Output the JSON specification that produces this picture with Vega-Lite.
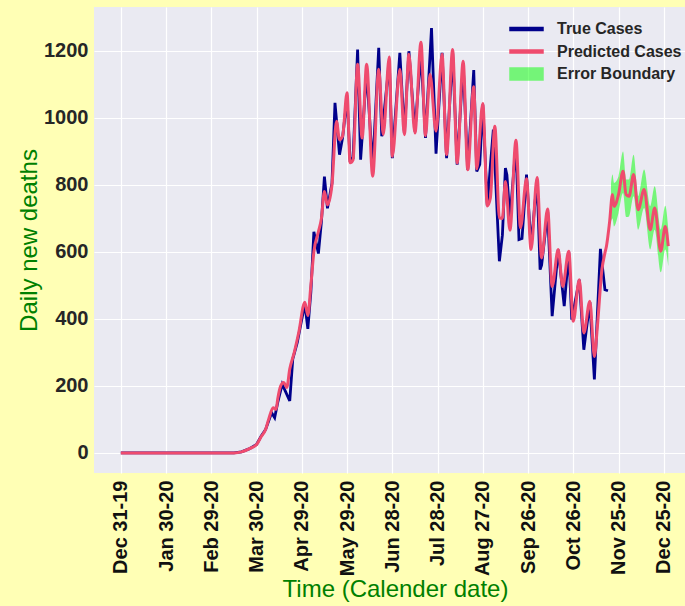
{
  "$schema": "https://vega.github.io/schema/vega-lite/v6.json",
  "width": 591,
  "height": 466,
  "autosize": {"type": "none"},
  "padding": {"left": 94, "top": 7, "right": 0, "bottom": 133},
  "background": "#ffffb5",
  "config": {
    "view": {"fill": "#eaeaf2", "stroke": null},
    "font": "Liberation Sans",
    "axis": {
      "grid": true, "gridColor": "#ffffff", "gridWidth": 1.2, "domain": false, "ticks": false,
      "labelFont": "Liberation Sans", "labelFontWeight": "bold", "labelFontSize": 20, "labelColor": "#262626",
      "titleFont": "Liberation Sans", "titleFontWeight": "normal", "titleFontSize": 24, "titleColor": "#008000"
    }
  },
  "datasets": {
    "predicted": [
      {"date": "2019-12-31", "value": 0}, {"date": "2020-01-30", "value": 0}, {"date": "2020-02-29", "value": 0},
      {"date": "2020-03-15", "value": 0}, {"date": "2020-03-20", "value": 3}, {"date": "2020-03-25", "value": 12},
      {"date": "2020-03-30", "value": 25}, {"date": "2020-04-02", "value": 48}, {"date": "2020-04-05", "value": 70},
      {"date": "2020-04-07", "value": 100}, {"date": "2020-04-10", "value": 135}, {"date": "2020-04-12", "value": 130},
      {"date": "2020-04-13", "value": 160}, {"date": "2020-04-15", "value": 200}, {"date": "2020-04-17", "value": 210},
      {"date": "2020-04-19", "value": 195}, {"date": "2020-04-21", "value": 250}, {"date": "2020-04-24", "value": 300},
      {"date": "2020-04-27", "value": 360}, {"date": "2020-05-01", "value": 450}, {"date": "2020-05-03", "value": 410},
      {"date": "2020-05-05", "value": 500}, {"date": "2020-05-07", "value": 600}, {"date": "2020-05-10", "value": 660},
      {"date": "2020-05-12", "value": 700}, {"date": "2020-05-14", "value": 780}, {"date": "2020-05-16", "value": 740},
      {"date": "2020-05-19", "value": 800}, {"date": "2020-05-22", "value": 990}, {"date": "2020-05-24", "value": 935},
      {"date": "2020-05-26", "value": 945}, {"date": "2020-05-29", "value": 1075}, {"date": "2020-05-31", "value": 866},
      {"date": "2020-06-02", "value": 875}, {"date": "2020-06-05", "value": 1160}, {"date": "2020-06-08", "value": 940},
      {"date": "2020-06-11", "value": 1160}, {"date": "2020-06-15", "value": 826}, {"date": "2020-06-19", "value": 1145},
      {"date": "2020-06-22", "value": 950}, {"date": "2020-06-26", "value": 1182}, {"date": "2020-06-28", "value": 885},
      {"date": "2020-07-03", "value": 1145}, {"date": "2020-07-06", "value": 950}, {"date": "2020-07-09", "value": 1190},
      {"date": "2020-07-13", "value": 955}, {"date": "2020-07-17", "value": 1226}, {"date": "2020-07-20", "value": 947},
      {"date": "2020-07-23", "value": 1130}, {"date": "2020-07-27", "value": 960}, {"date": "2020-07-31", "value": 1190},
      {"date": "2020-08-03", "value": 890}, {"date": "2020-08-07", "value": 1204}, {"date": "2020-08-10", "value": 865},
      {"date": "2020-08-14", "value": 1169}, {"date": "2020-08-17", "value": 845}, {"date": "2020-08-21", "value": 1093},
      {"date": "2020-08-23", "value": 848}, {"date": "2020-08-27", "value": 1043}, {"date": "2020-08-30", "value": 737},
      {"date": "2020-09-01", "value": 760}, {"date": "2020-09-04", "value": 975}, {"date": "2020-09-07", "value": 701},
      {"date": "2020-09-09", "value": 700}, {"date": "2020-09-11", "value": 810}, {"date": "2020-09-14", "value": 665},
      {"date": "2020-09-18", "value": 933}, {"date": "2020-09-21", "value": 672}, {"date": "2020-09-25", "value": 818},
      {"date": "2020-09-28", "value": 607}, {"date": "2020-10-02", "value": 822}, {"date": "2020-10-05", "value": 582},
      {"date": "2020-10-09", "value": 728}, {"date": "2020-10-12", "value": 497}, {"date": "2020-10-16", "value": 607},
      {"date": "2020-10-19", "value": 497}, {"date": "2020-10-23", "value": 602}, {"date": "2020-10-26", "value": 393},
      {"date": "2020-10-30", "value": 517}, {"date": "2020-11-02", "value": 358}, {"date": "2020-11-06", "value": 453},
      {"date": "2020-11-09", "value": 288}, {"date": "2020-11-11", "value": 378}, {"date": "2020-11-14", "value": 547},
      {"date": "2020-11-16", "value": 597}, {"date": "2020-11-17", "value": 617}, {"date": "2020-11-19", "value": 686},
      {"date": "2020-11-21", "value": 771}, {"date": "2020-11-22", "value": 736}, {"date": "2020-11-25", "value": 771},
      {"date": "2020-11-28", "value": 841}, {"date": "2020-11-30", "value": 771}, {"date": "2020-12-02", "value": 766},
      {"date": "2020-12-05", "value": 831}, {"date": "2020-12-08", "value": 726}, {"date": "2020-12-12", "value": 786},
      {"date": "2020-12-16", "value": 666}, {"date": "2020-12-19", "value": 731}, {"date": "2020-12-23", "value": 602},
      {"date": "2020-12-26", "value": 676}, {"date": "2020-12-28", "value": 617}
    ],
    "true": [
      {"date": "2019-12-31", "value": 0}, {"date": "2020-01-30", "value": 0}, {"date": "2020-02-29", "value": 0},
      {"date": "2020-03-15", "value": 0}, {"date": "2020-03-20", "value": 3}, {"date": "2020-03-25", "value": 12},
      {"date": "2020-03-30", "value": 25}, {"date": "2020-04-02", "value": 50}, {"date": "2020-04-05", "value": 70},
      {"date": "2020-04-09", "value": 120}, {"date": "2020-04-11", "value": 105}, {"date": "2020-04-13", "value": 150},
      {"date": "2020-04-16", "value": 205}, {"date": "2020-04-18", "value": 185}, {"date": "2020-04-21", "value": 155},
      {"date": "2020-04-23", "value": 280}, {"date": "2020-04-26", "value": 330}, {"date": "2020-05-01", "value": 445},
      {"date": "2020-05-03", "value": 370}, {"date": "2020-05-05", "value": 480}, {"date": "2020-05-07", "value": 660},
      {"date": "2020-05-10", "value": 595}, {"date": "2020-05-12", "value": 690}, {"date": "2020-05-14", "value": 825},
      {"date": "2020-05-16", "value": 730}, {"date": "2020-05-19", "value": 805}, {"date": "2020-05-21", "value": 1045},
      {"date": "2020-05-24", "value": 890}, {"date": "2020-05-26", "value": 940}, {"date": "2020-05-29", "value": 1060},
      {"date": "2020-05-31", "value": 875}, {"date": "2020-06-02", "value": 880}, {"date": "2020-06-05", "value": 1204},
      {"date": "2020-06-07", "value": 875}, {"date": "2020-06-11", "value": 1140}, {"date": "2020-06-15", "value": 850},
      {"date": "2020-06-19", "value": 1209}, {"date": "2020-06-21", "value": 945}, {"date": "2020-06-26", "value": 1170},
      {"date": "2020-06-28", "value": 880}, {"date": "2020-07-03", "value": 1194}, {"date": "2020-07-06", "value": 955},
      {"date": "2020-07-09", "value": 1199}, {"date": "2020-07-13", "value": 960}, {"date": "2020-07-17", "value": 1195},
      {"date": "2020-07-20", "value": 940}, {"date": "2020-07-24", "value": 1268}, {"date": "2020-07-27", "value": 893},
      {"date": "2020-07-31", "value": 1194}, {"date": "2020-08-03", "value": 880}, {"date": "2020-08-07", "value": 1195},
      {"date": "2020-08-10", "value": 860}, {"date": "2020-08-14", "value": 1160}, {"date": "2020-08-17", "value": 845},
      {"date": "2020-08-21", "value": 1143}, {"date": "2020-08-23", "value": 840}, {"date": "2020-08-25", "value": 861},
      {"date": "2020-08-27", "value": 1040}, {"date": "2020-08-30", "value": 738}, {"date": "2020-09-01", "value": 855},
      {"date": "2020-09-03", "value": 965}, {"date": "2020-09-07", "value": 572}, {"date": "2020-09-09", "value": 650},
      {"date": "2020-09-11", "value": 850}, {"date": "2020-09-12", "value": 830}, {"date": "2020-09-14", "value": 700},
      {"date": "2020-09-18", "value": 920}, {"date": "2020-09-20", "value": 637}, {"date": "2020-09-22", "value": 640},
      {"date": "2020-09-25", "value": 831}, {"date": "2020-09-28", "value": 617}, {"date": "2020-10-02", "value": 815},
      {"date": "2020-10-04", "value": 547}, {"date": "2020-10-05", "value": 560}, {"date": "2020-10-09", "value": 720},
      {"date": "2020-10-12", "value": 408}, {"date": "2020-10-16", "value": 607}, {"date": "2020-10-20", "value": 438},
      {"date": "2020-10-23", "value": 600}, {"date": "2020-10-25", "value": 398}, {"date": "2020-10-30", "value": 517},
      {"date": "2020-11-02", "value": 308}, {"date": "2020-11-06", "value": 450}, {"date": "2020-11-09", "value": 219},
      {"date": "2020-11-13", "value": 609}, {"date": "2020-11-16", "value": 487}, {"date": "2020-11-18", "value": 484}
    ],
    "band": [
      {"date": "2020-11-20", "lo": 690, "hi": 800}, {"date": "2020-11-21", "lo": 700, "hi": 831},
      {"date": "2020-11-22", "lo": 676, "hi": 806}, {"date": "2020-11-25", "lo": 716, "hi": 826},
      {"date": "2020-11-28", "lo": 776, "hi": 900}, {"date": "2020-11-30", "lo": 704, "hi": 816},
      {"date": "2020-12-02", "lo": 706, "hi": 816}, {"date": "2020-12-05", "lo": 766, "hi": 890},
      {"date": "2020-12-08", "lo": 666, "hi": 766}, {"date": "2020-12-12", "lo": 731, "hi": 846},
      {"date": "2020-12-16", "lo": 607, "hi": 736}, {"date": "2020-12-19", "lo": 666, "hi": 796},
      {"date": "2020-12-23", "lo": 539, "hi": 666}, {"date": "2020-12-26", "lo": 607, "hi": 738},
      {"date": "2020-12-28", "lo": 557, "hi": 666}
    ]
  },
  "encoding": {
    "x": {
      "field": "date", "type": "temporal",
      "scale": {"type": "utc", "domain": [
        {"year": 2019, "month": 12, "date": 13, "hours": 5, "utc": true},
        {"year": 2021, "month": 1, "date": 8, "hours": 2, "utc": true}
      ]},
      "axis": {
        "title": "Time (Calender date)", "titlePadding": 2, "titleX": 301,
        "format": "%b %d-%y", "labelAngle": 270, "labelPadding": 7, "labelColor": "#111111",
        "values": [
          {"year": 2019, "month": 12, "date": 31, "utc": true},
          {"year": 2020, "month": 1, "date": 30, "utc": true},
          {"year": 2020, "month": 2, "date": 29, "utc": true},
          {"year": 2020, "month": 3, "date": 30, "utc": true},
          {"year": 2020, "month": 4, "date": 29, "utc": true},
          {"year": 2020, "month": 5, "date": 29, "utc": true},
          {"year": 2020, "month": 6, "date": 28, "utc": true},
          {"year": 2020, "month": 7, "date": 28, "utc": true},
          {"year": 2020, "month": 8, "date": 27, "utc": true},
          {"year": 2020, "month": 9, "date": 26, "utc": true},
          {"year": 2020, "month": 10, "date": 26, "utc": true},
          {"year": 2020, "month": 11, "date": 25, "utc": true},
          {"year": 2020, "month": 12, "date": 25, "utc": true}
        ]
      }
    }
  },
  "layer": [
    {
      "data": {"name": "band"},
      "mark": {"type": "area", "interpolate": "monotone", "opacity": 0.5},
      "encoding": {
        "y": {"field": "lo", "type": "quantitative"},
        "y2": {"field": "hi"},
        "color": {"datum": "Error Boundary"}
      }
    },
    {
      "data": {"name": "true"},
      "mark": {"type": "line", "strokeWidth": 2.8},
      "encoding": {
        "y": {"field": "value", "type": "quantitative"},
        "color": {"datum": "True Cases"}
      }
    },
    {
      "data": {"name": "predicted"},
      "mark": {"type": "line", "strokeWidth": 3, "interpolate": "monotone"},
      "encoding": {
        "y": {
          "field": "value", "type": "quantitative",
          "scale": {"domain": [-60, 1331], "nice": false, "zero": false},
          "axis": {"title": "Daily new deaths", "titlePadding": 2, "labelPadding": 6, "format": "d", "values": [0, 200, 400, 600, 800, 1000, 1200]}
        },
        "color": {
          "datum": "Predicted Cases",
          "scale": {"domain": ["True Cases", "Predicted Cases", "Error Boundary"], "range": ["#00008b", "#ef4b6e", "#00ff00"]},
          "legend": {
            "title": null, "orient": "none", "legendX": 421.5, "legendY": 11, "padding": 0,
            "symbolType": "M-1.65,-0.15H1.65V0.15H-1.65Z", "symbolSize": 400,
            "labelFont": "Liberation Sans", "labelFontWeight": "bold", "labelFontSize": 16, "labelColor": "#262626",
            "labelOffset": 19.5, "rowPadding": 3.5,
            "encode": {
              "symbols": {
                "update": {
                  "shape": {"signal": "datum.value === 'Error Boundary' ? 'M-1.65,-0.6H1.65V0.6H-1.65Z' : 'M-1.65,-0.15H1.65V0.15H-1.65Z'"},
                  "fill": {"scale": "color", "field": "value"},
                  "stroke": {"value": "transparent"},
                  "opacity": {"signal": "datum.value === 'Error Boundary' ? 0.5 : 1"}
                }
              }
            }
          }
        }
      }
    }
  ]
}
